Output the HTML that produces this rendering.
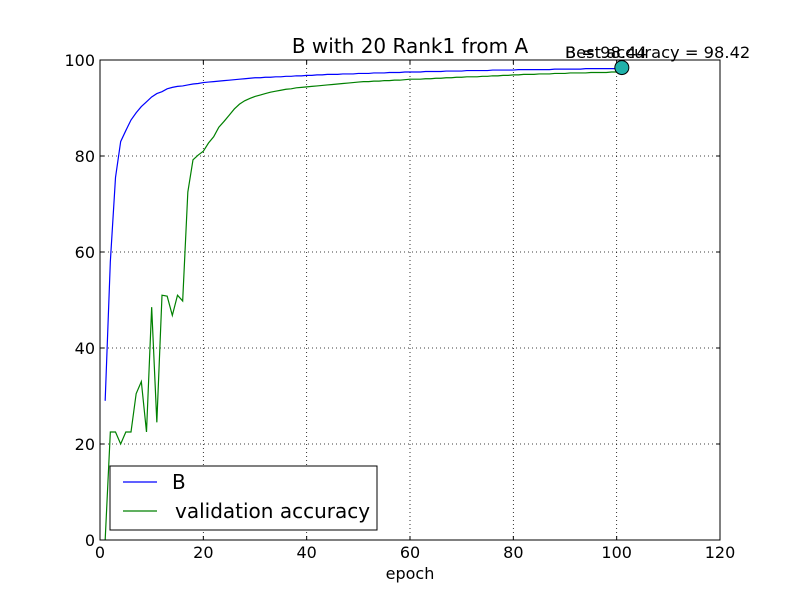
<!DOCTYPE html>
<html><head><meta charset="utf-8"><style>body{margin:0;background:#fff}svg{display:block}text{font-family:"DejaVu Sans","Liberation Sans",sans-serif}</style></head>
<body>
<svg id="c" width="800" height="600"></svg>
<script>
const blueValues=[29,58,75.5,83,85.3,87.5,89,90.3,91.3,92.3,93,93.4,94,94.3,94.5,94.6,94.8,95,95.1,95.3,95.4,95.5,95.6,95.7,95.8,95.9,96,96.1,96.2,96.3,96.3,96.4,96.4,96.5,96.5,96.6,96.6,96.7,96.7,96.8,96.8,96.9,96.9,97,97,97,97.1,97.1,97.1,97.2,97.2,97.2,97.3,97.3,97.3,97.4,97.4,97.4,97.5,97.5,97.5,97.5,97.6,97.6,97.6,97.6,97.7,97.7,97.7,97.7,97.8,97.8,97.8,97.8,97.8,97.9,97.9,97.9,97.9,97.9,98,98,98,98,98,98,98,98.1,98.1,98.1,98.1,98.1,98.1,98.2,98.2,98.2,98.2,98.2,98.2,98.2];
const greenValues=[0,22.5,22.5,20,22.5,22.5,30.5,33,22.5,48.5,24.5,51,50.8,46.8,51,49.8,72.5,79.2,80.2,81,82.7,84,86,87.2,88.5,89.8,90.8,91.5,92,92.4,92.7,93,93.3,93.5,93.7,93.9,94,94.2,94.3,94.4,94.5,94.6,94.7,94.8,94.9,95,95.1,95.2,95.3,95.4,95.5,95.5,95.6,95.6,95.7,95.7,95.8,95.8,95.9,96,96,96,96.1,96.1,96.2,96.2,96.3,96.3,96.4,96.4,96.5,96.5,96.5,96.6,96.6,96.7,96.7,96.8,96.8,96.9,96.9,97,97,97,97.1,97.1,97.1,97.2,97.2,97.2,97.3,97.3,97.3,97.3,97.4,97.4,97.4,97.4,97.5,97.5];
const xTicks=[0,20,40,60,80,100,120];
const yTicks=[0,20,40,60,80,100];
const bestPoint=[101,98.42];
const NS="http://www.w3.org/2000/svg";
const svg=document.getElementById('c');
const L=100,R=720,T=60,B=540;
const xs=v=>L+(v/120)*(R-L), ys=v=>B-(v/100)*(B-T);
function el(t,a,p){const e=document.createElementNS(NS,t);for(const k in a)e.setAttribute(k,a[k]);(p||svg).appendChild(e);return e;}
for(const t of xTicks){
 if(t>0&&t<120){const g=el('line',{x1:xs(t),x2:xs(t),y1:T,y2:B,stroke:'#000','stroke-dasharray':'1,3','stroke-width':0.8});
 
 }
 const tx=el('text',{x:xs(t),y:B+18,'text-anchor':'middle','font-size':16});tx.textContent=t;
 
 
 el('line',{x1:xs(t),x2:xs(t),y1:B,y2:B-4,stroke:'#000'});el('line',{x1:xs(t),x2:xs(t),y1:T,y2:T+4,stroke:'#000'});
}
for(const t of yTicks){
 if(t>0&&t<100){const g=el('line',{x1:L,x2:R,y1:ys(t),y2:ys(t),stroke:'#000','stroke-dasharray':'1,3','stroke-width':0.8});
 
 }
 const tx=el('text',{x:L-5,y:ys(t)+6,'text-anchor':'end','font-size':16});tx.textContent=t;
 
 
 el('line',{x1:L,x2:L+4,y1:ys(t),y2:ys(t),stroke:'#000'});el('line',{x1:R,x2:R-4,y1:ys(t),y2:ys(t),stroke:'#000'});
}
function series(vals,color,name){
 const p=el('polyline',{points:vals.map((v,i)=>xs(i+1)+','+ys(v)).join(' '),fill:'none',stroke:color,'stroke-width':1.2});
 
 
}
series(greenValues,'#008000','validation-accuracy-line');
series(blueValues,'#0000ff','b-line');
const fr=el('rect',{x:L,y:T,width:R-L,height:B-T,fill:'none',stroke:'#000'});


const m=el('circle',{cx:xs(bestPoint[0]),cy:ys(bestPoint[1]),r:7,fill:'#20b2aa',stroke:'#000'});


const a1=el('text',{x:565,y:58,'font-size':16.3});a1.textContent='Best accuracy = '+bestPoint[1];


const a2=el('text',{x:565,y:58,'font-size':16.3});a2.textContent='B = 98.44';


const ti=el('text',{x:410,y:53,'text-anchor':'middle','font-size':20});ti.textContent='B with 20 Rank1 from A';


const xl=el('text',{x:410,y:579,'text-anchor':'middle','font-size':16});xl.textContent='epoch';


const lg=el('g',{});


el('rect',{x:110,y:466,width:267,height:64,fill:'#fff',stroke:'#000'},lg);
el('line',{x1:123,x2:157,y1:482,y2:482,stroke:'#0000ff','stroke-width':1.2},lg);
el('line',{x1:123,x2:157,y1:511,y2:511,stroke:'#008000','stroke-width':1.2},lg);
const l1=el('text',{x:172,y:489,'font-size':20},lg);l1.textContent='B';


const l2=el('text',{x:175,y:518,'font-size':20},lg);l2.textContent='validation accuracy';


</script>
</body></html>
